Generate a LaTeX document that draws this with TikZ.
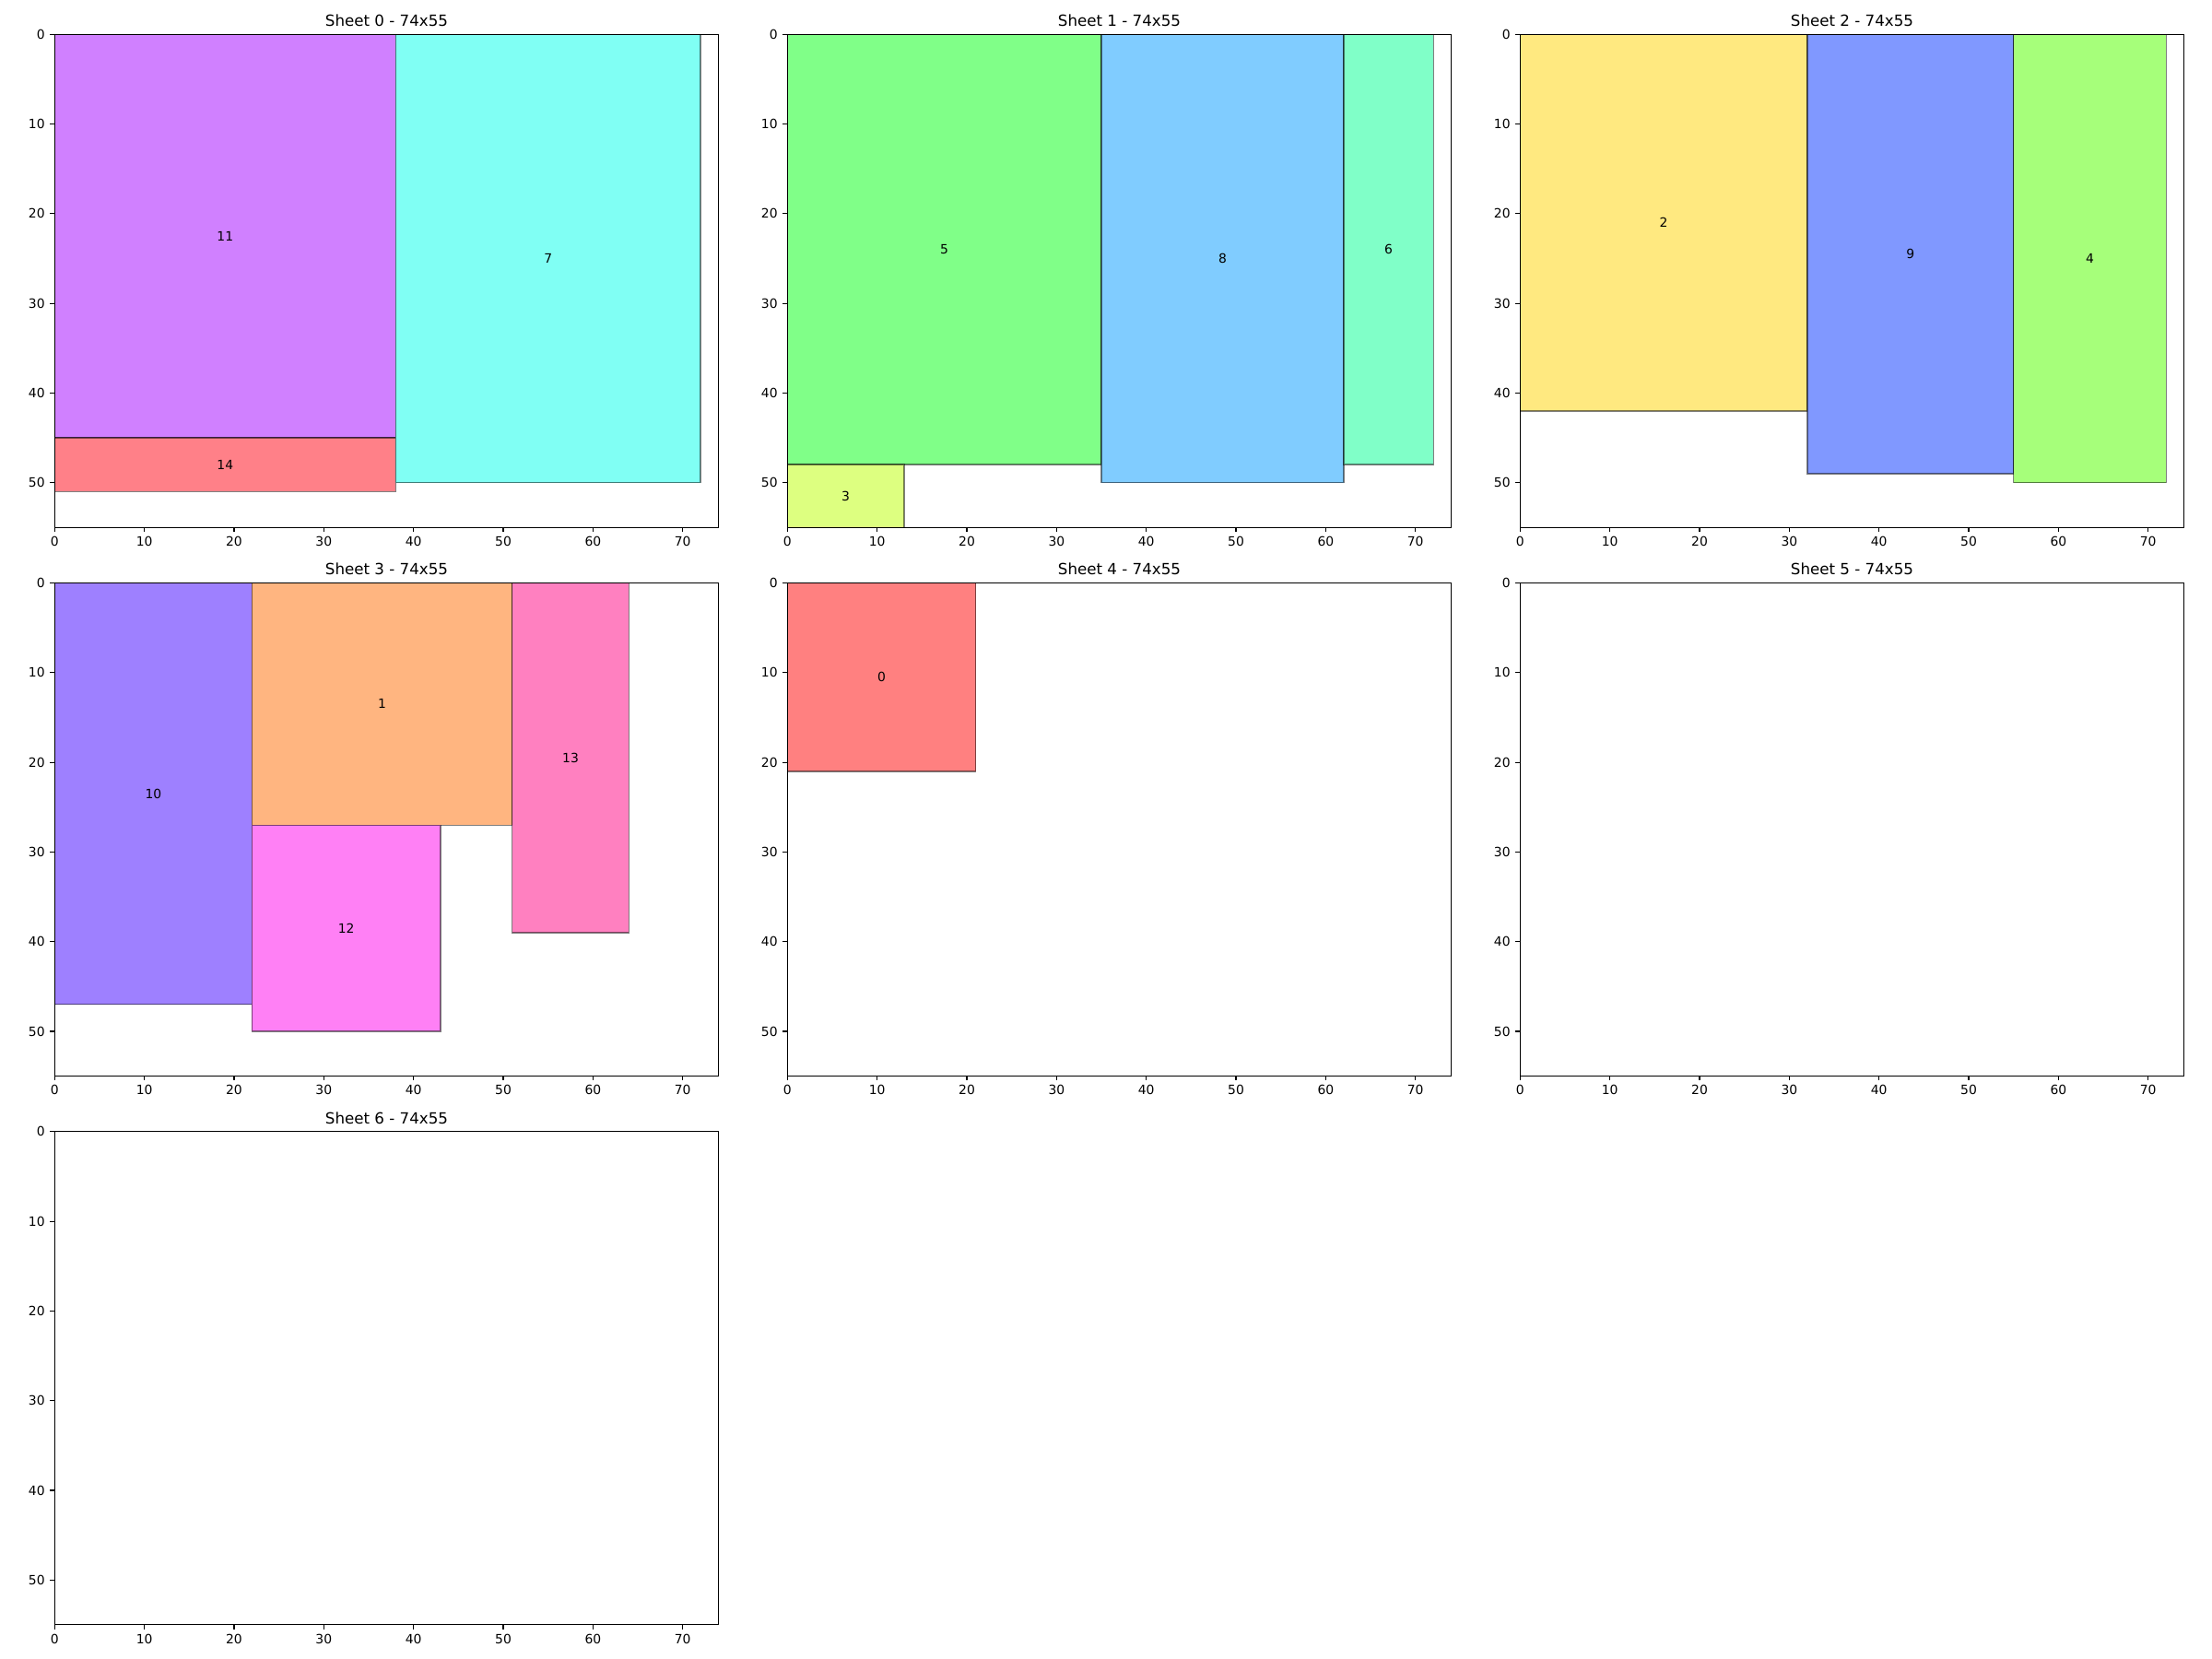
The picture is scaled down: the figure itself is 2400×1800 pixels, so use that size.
\documentclass[tikz,border=0pt]{standalone}
\usepackage{fontspec}
\setmainfont{DejaVu Sans}
\definecolor{c0}{HTML}{FF8080}
\definecolor{c1}{HTML}{FFB580}
\definecolor{c2}{HTML}{FFE980}
\definecolor{c3}{HTML}{DDFF80}
\definecolor{c4}{HTML}{A6FF7A}
\definecolor{c5}{HTML}{80FF88}
\definecolor{c6}{HTML}{80FFC8}
\definecolor{c7}{HTML}{80FFF4}
\definecolor{c8}{HTML}{80CCFF}
\definecolor{c9}{HTML}{8098FF}
\definecolor{c10}{HTML}{9E80FF}
\definecolor{c11}{HTML}{D080FF}
\definecolor{c12}{HTML}{FF80F5}
\definecolor{c13}{HTML}{FF80C0}
\definecolor{c14}{HTML}{FF8088}
\tikzset{
  sheetpos/.style 2 args={xshift={#1*0.01in}, yshift={-#2*0.01in}, x=0.097297in, y=-0.09722in},
  edgeline/.style={draw=black, draw opacity=0.5, line width=1bp},
  spine/.style={draw=black, line width=0.8bp},
  lbl/.style={inner sep=0pt, font=\fontsize{10bp}{12bp}\selectfont},
  ticklbl/.style={inner sep=0pt, font=\fontsize{10bp}{12bp}\selectfont},
  titlelbl/.style={inner sep=0pt, anchor=base, font=\fontsize{12bp}{14bp}\selectfont},
}
\newcommand\sheetframe[1]{%
  \foreach \i in {0,10,...,70} {
    \draw[spine] (\i,55) -- ++(0pt,-3.5bp);
    \node[ticklbl, anchor=north] (xt#1x\i) at ([yshift=-7bp]\i,55) {\i};
  }
  \foreach \j in {0,10,...,50} {
    \draw[spine] (0,\j) -- ++(-3.5bp,0pt);
    \node[ticklbl, anchor=east] (yt#1x\j) at ([xshift=-7.5bp]0,\j) {\j};
  }
  \draw[spine] (0,0) rectangle (74,55);
  \node[titlelbl] (title#1) at ([yshift=6.2bp]37,0) {Sheet #1 - 74x55};
}
\newcommand\piece[5]{% name, x0, y0, x1, y1
  \fill[c#1] (#2,#3) rectangle (#4,#5);
  \draw[edgeline] (#2,#3) rectangle (#4,#5);
  \node[lbl] (p#1) at ({(#2+#4)/2},{(#3+#5)/2}) {#1};
}
\begin{document}
\begin{tikzpicture}[x=0.01in,y=-0.01in]
\useasboundingbox (0,0) rectangle (2400,1800);
% Sheet 0
\begin{scope}[sheetpos={59.3}{37.3}]
  \piece{11}{0}{0}{38}{45}
  \piece{14}{0}{45}{38}{51}
  \piece{7}{38}{0}{72}{50}
  \sheetframe{0}
\end{scope}
% Sheet 1
\begin{scope}[sheetpos={854.3}{37.3}]
  \piece{5}{0}{0}{35}{48}
  \piece{3}{0}{48}{13}{55}
  \piece{8}{35}{0}{62}{50}
  \piece{6}{62}{0}{72}{48}
  \sheetframe{1}
\end{scope}
% Sheet 2
\begin{scope}[sheetpos={1649.3}{37.3}]
  \piece{2}{0}{0}{32}{42}
  \piece{9}{32}{0}{55}{49}
  \piece{4}{55}{0}{72}{50}
  \sheetframe{2}
\end{scope}
% Sheet 3
\begin{scope}[sheetpos={59.3}{632.6}]
  \piece{10}{0}{0}{22}{47}
  \piece{1}{22}{0}{51}{27}
  \piece{12}{22}{27}{43}{50}
  \piece{13}{51}{0}{64}{39}
  \sheetframe{3}
\end{scope}
% Sheet 4
\begin{scope}[sheetpos={854.3}{632.6}]
  \piece{0}{0}{0}{21}{21}
  \sheetframe{4}
\end{scope}
% Sheet 5
\begin{scope}[sheetpos={1649.3}{632.6}]
  \sheetframe{5}
\end{scope}
% Sheet 6
\begin{scope}[sheetpos={59.3}{1227.9}]
  \sheetframe{6}
\end{scope}
\end{tikzpicture}
\end{document}
